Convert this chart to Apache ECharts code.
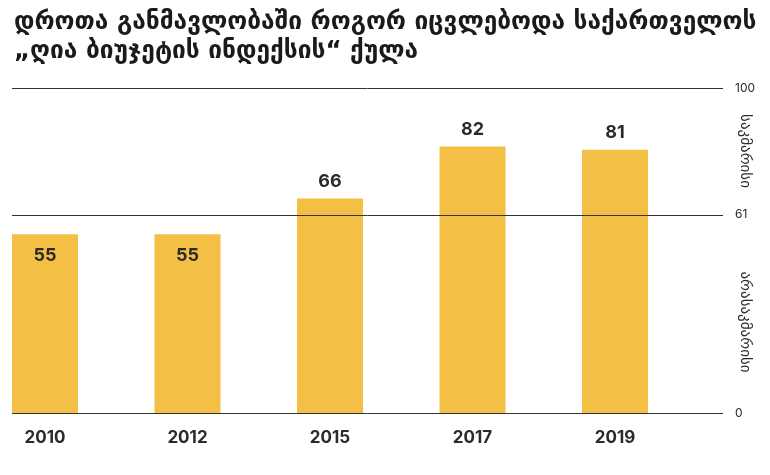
<!DOCTYPE html>
<html>
<head>
<meta charset="utf-8">
<script src="https://cdn.jsdelivr.net/npm/echarts@6/dist/echarts.min.js"></script>
<style>
  html, body { margin: 0; padding: 0; background: #fff; }
  #chart { width: 770px; height: 475px; }
</style>
</head>
<body>
<div id="chart"></div>
<script>
// data
const years = ['2010', '2012', '2015', '2017', '2019'];
const indexValues = [55, 55, 66, 82, 81];
const levelLines = [0, 61, 100];
const bandLabels = ['საკმარისი', 'არასაკმარისი'];
const titleLines = ['დროთა განმავლობაში როგორ იცვლებოდა საქართველოს', '„ღია ბიუჯეტის ინდექსის“ ქულა'];

const barColor = '#F3BF45';
const textColor = '#2b2b2b';

let chart = echarts.init(document.getElementById('chart'));

let option = {
  animation: false,
  title: {
    text: titleLines.join('\n'),
    left: 9,
    top: 3,
    textStyle: {
      fontFamily: 'DejaVu Sans',
      fontWeight: 'bold',
      fontSize: 24.5,
      lineHeight: 29,
      color: '#1a1a1a'
    }
  },
  grid: [
    // bars: category centres from 2010 to 2019
    { left: 45, right: 155, top: 88, bottom: 62 },
    // horizontal reference lines
    { left: 12, right: 47, top: 88, bottom: 62 }
  ],
  xAxis: [
    {
      gridIndex: 0,
      type: 'category',
      boundaryGap: false,
      data: years,
      axisLine: { show: false },
      axisTick: { show: false },
      axisLabel: {
        margin: 16,
        fontFamily: 'Inter',
        fontWeight: 'bold',
        fontSize: 17,
        color: textColor
      }
    },
    { gridIndex: 1, type: 'value', min: 0, max: 1, show: false }
  ],
  yAxis: [
    { gridIndex: 0, type: 'value', min: 0, max: 100, show: false },
    { gridIndex: 1, type: 'value', min: 0, max: 100, show: false }
  ],
  series: [
    {
      type: 'bar',
      xAxisIndex: 0,
      yAxisIndex: 0,
      barWidth: 66,
      clip: false,
      itemStyle: { color: barColor },
      data: indexValues.map(v => ({
        value: v,
        label: { position: v < 61 ? 'insideTop' : 'top', distance: v < 61 ? 12 : 8 }
      })),
      label: {
        show: true,
        fontFamily: 'Inter',
        fontWeight: 'bold',
        fontSize: 18,
        color: textColor
      },
      z: 2
    },
    {
      type: 'line',
      xAxisIndex: 1,
      yAxisIndex: 1,
      data: [],
      z: 3,
      markLine: {
        silent: true,
        symbol: 'none',
        lineStyle: { color: '#333', width: 1, type: 'solid' },
        label: {
          position: 'end',
          distance: 12,
          fontFamily: 'Inter',
          fontSize: 12,
          color: textColor,
          formatter: p => p.value
        },
        data: levelLines.map(v => ({ yAxis: v }))
      }
    }
  ],
  graphic: [
    {
      type: 'text',
      x: 745,
      y: 151,
      rotation: -Math.PI / 2,
      style: {
        text: bandLabels[0],
        font: '15px "DejaVu Sans"',
        fill: textColor,
        align: 'center',
        verticalAlign: 'middle'
      }
    },
    {
      type: 'text',
      x: 745,
      y: 322,
      rotation: -Math.PI / 2,
      style: {
        text: bandLabels[1],
        font: '15px "DejaVu Sans"',
        fill: textColor,
        align: 'center',
        verticalAlign: 'middle'
      }
    }
  ]
};

chart.setOption(option);
</script>
</body>
</html>
